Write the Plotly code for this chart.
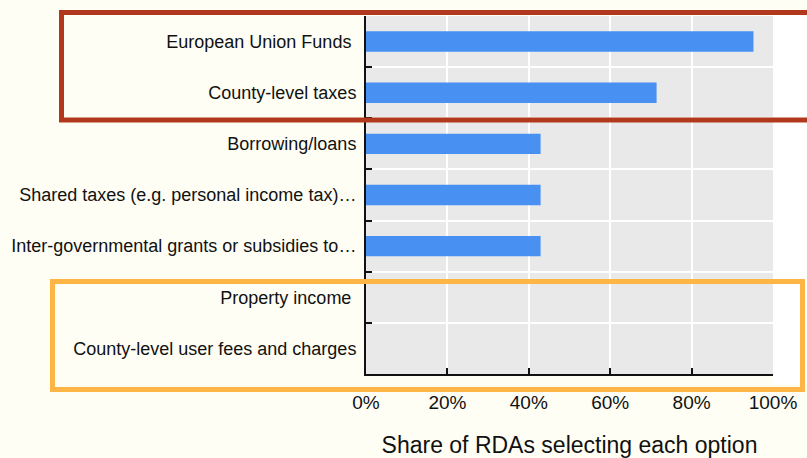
import plotly.graph_objects as go

categories = [
    "European Union Funds\u00a0",
    "County-level taxes",
    "Borrowing/loans",
    "Shared taxes (e.g. personal income tax)…",
    "Inter-governmental grants or subsidies to…",
    "Property income\u00a0",
    "County-level user fees and charges",
]
shares = [95.2, 71.4, 42.9, 42.9, 42.9, 0, 0]
x_ticks = [0, 20, 40, 60, 80, 100]
x_tick_labels = ["0%", "20%", "40%", "60%", "80%", "100%"]
x_title = "Share of RDAs selecting each option"

W, H = 807, 458
L, R, T, B = 366, 34, 16, 84
pw, ph = W - L - R, H - T - B

def px_x(p):
    return (p - L) / pw

def px_y(p):
    return (H - B - p) / ph

FONT = "Liberation Sans, Arial, Helvetica, sans-serif"

fig = go.Figure(go.Bar(
    y=categories, x=shares, orientation="h",
    marker=dict(color="#4890F2", line=dict(width=0)),
    width=0.4,
))

fig.update_layout(
    width=W, height=H,
    margin=dict(l=L, r=R, t=T, b=B),
    paper_bgcolor="#FFFEF4",
    plot_bgcolor="#E9E9E9",
    showlegend=False,
    font=dict(family=FONT, size=18, color="#111111"),
)
fig.update_xaxes(
    range=[0, 100], tickvals=x_ticks, ticktext=x_tick_labels,
    showgrid=True, gridcolor="#FFFFFF", gridwidth=1.6,
    showline=True, linecolor="#111111", linewidth=2,
    ticks="inside", ticklen=6, tickwidth=1.5, tickcolor="#111111",
    tickfont=dict(size=19), ticklabelstandoff=10,
    title=dict(text=x_title, font=dict(size=23), standoff=26),
    zeroline=False, fixedrange=True, automargin=False,
)
fig.update_yaxes(
    type="category", categoryorder="array", categoryarray=categories,
    autorange="reversed",
    tickson="boundaries", ticks="inside", ticklen=6, tickwidth=1.5, tickcolor="#111111",
    showgrid=True, gridcolor="#FFFFFF", gridwidth=1.6,
    showline=True, linecolor="#111111", linewidth=2,
    tickfont=dict(size=18), ticklabelstandoff=4,
    zeroline=False, fixedrange=True, automargin=False,
)

shapes = [
    dict(type="rect", xref="paper", yref="paper", x0=1.0, x1=px_x(W + 5),
         y0=px_y(T - 1), y1=px_y(H - B + 10), fillcolor="#FFFFFF",
         line=dict(width=0), layer="below"),
    dict(type="rect", xref="paper", yref="paper", x0=px_x(61.5), x1=px_x(W + 10),
         y0=px_y(120), y1=px_y(12.5), line=dict(color="#B1381C", width=5),
         fillcolor="rgba(0,0,0,0)", layer="above"),
    dict(type="rect", xref="paper", yref="paper", x0=px_x(52.5), x1=px_x(802.5),
         y0=px_y(389.5), y1=px_y(281.5), line=dict(color="#FDB545", width=5),
         fillcolor="rgba(0,0,0,0)", layer="above"),
]
fig.update_layout(shapes=shapes)

fig.write_html(
    "out.html",
    config={"displayModeBar": False},
    post_script="document.body.style.margin='0';document.body.style.overflow='hidden';",
)
